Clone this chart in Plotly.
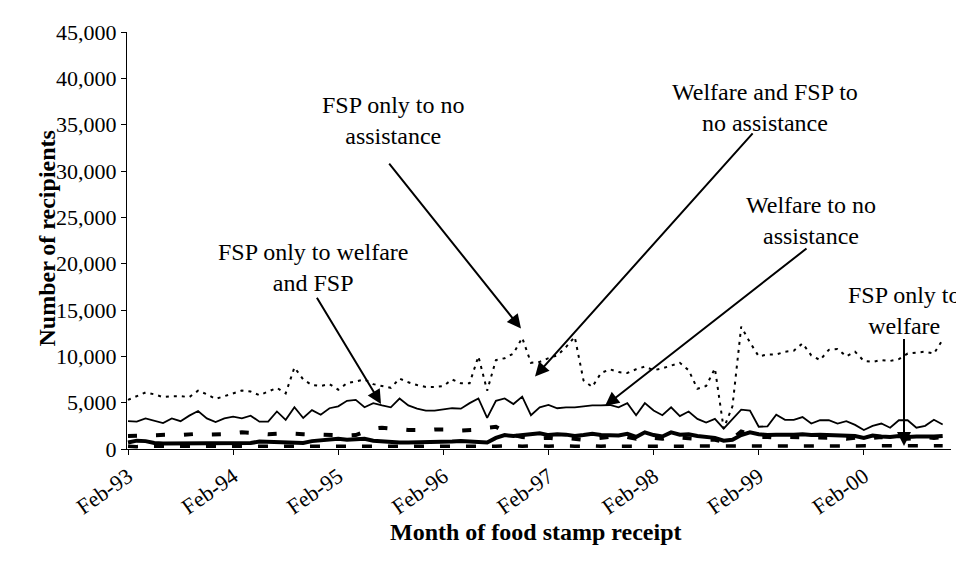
import pandas as pd
import plotly.graph_objects as go

# ---------------- data ----------------
months = list(pd.date_range("1993-02-01", periods=94, freq="MS").strftime("%b-%y"))
tick_labels = ["Feb-93", "Feb-94", "Feb-95", "Feb-96", "Feb-97", "Feb-98", "Feb-99", "Feb-00"]
y_ticks = [0, 5000, 10000, 15000, 20000, 25000, 30000, 35000, 40000, 45000]

fsp_only_to_none = [
    5300, 5700, 6100, 5900, 5600, 5700, 5700, 5600, 6300, 5900,
    5400, 5700, 6000, 6300, 6200, 5800, 6200, 6600, 6000, 8800,
    7500, 6900, 6800, 7000, 6400, 7100, 7300, 7500, 7000, 6800,
    6600, 7600, 7200, 6900, 6700, 6700, 6800, 7500, 7100, 7100,
    10000, 6300, 9600, 9800, 10300, 12000, 9300, 9400, 9800, 10100,
    11000, 12100, 7400, 6700, 8200, 8600, 8300, 8200, 8600, 8900,
    8500, 8700, 9000, 9300, 8500, 6500, 6800, 8700, 2200, 4600,
    13200, 11500, 10000, 10200, 10200, 10500, 10600, 11400, 10100, 9600,
    10700, 10800, 10000, 10500, 9500, 9400, 9600, 9500, 9700, 10300,
    10400, 10500, 10300, 11800]

welfare_fsp_to_none = [
    3000, 2950, 3300, 3050, 2800, 3300, 3000, 3600, 4100, 3300,
    2900, 3300, 3500, 3300, 3600, 2950, 2950, 4050, 3150, 4500,
    3350, 4200, 3700, 4400, 4600, 5200, 5300, 4500, 4950, 4700,
    4500, 5450, 4700, 4350, 4150, 4150, 4250, 4400, 4350, 4950,
    5450, 3350, 5200, 5450, 4850, 5650, 3650, 4500, 4750, 4400,
    4500, 4500, 4600, 4700, 4700, 4750, 4500, 4950, 3650, 4950,
    4150, 3650, 4500, 3550, 4050, 3250, 2850, 3250, 2200, 3250,
    4250, 4150, 2400, 2450, 3700, 3150, 3150, 3450, 2750, 3100,
    3100, 2750, 3000, 2600, 2050, 2500, 2750, 2300, 3100, 3100,
    2300, 2500, 3150, 2650]

welfare_to_none = [
    1400, 1450, 1500, 1450, 1500, 1550, 1500, 1600, 1650, 1550,
    1550, 1600, 1700, 1800, 1750, 1650, 1600, 1650, 1700, 1650,
    1600, 1550, 1500, 1550, 1500, 1450, 1500, 1800, 2200, 2300,
    2200, 2100, 2050, 2050, 2000, 2100, 2150, 2100, 2000, 2050,
    2100, 2300, 2400, 1900, 1500, 1300, 1200, 1150, 1200, 1100,
    1200, 1100, 1000, 1100, 1200, 1300, 1200, 1300, 1100, 1300,
    1200, 1100, 1300, 1200, 1200, 1100, 1000, 1000, 800, 1100,
    1900, 1600, 1300, 1300, 1200, 1300, 1300, 1200, 1300, 1200,
    1300, 1200, 1100, 1200, 1100, 1200, 1300, 1100, 1200, 1100,
    1200, 1300, 1200, 1300]

fsp_only_to_welfare_fsp = [
    700, 900, 850, 650, 600, 600, 650, 650, 650, 700,
    700, 650, 650, 600, 650, 800, 750, 700, 750, 700,
    650, 850, 900, 950, 1100, 1000, 1000, 1100, 900, 800,
    700, 700, 700, 700, 700, 750, 800, 800, 850, 800,
    700, 700, 1200, 1500, 1400, 1500, 1700, 1700, 1500, 1600,
    1550, 1400, 1500, 1650, 1500, 1500, 1450, 1650, 1300, 1800,
    1500, 1350, 1800, 1550, 1600, 1400, 1300, 1200, 900, 1000,
    1500, 1800, 1600, 1500, 1550, 1500, 1550, 1600, 1500, 1550,
    1500, 1400, 1450, 1400, 1200, 1450, 1350, 1300, 1400, 1300,
    1350, 1300, 1350, 1400]

fsp_only_to_welfare = [
    300, 250, 300, 300, 250, 250, 300, 250, 300, 300,
    250, 250, 300, 300, 250, 300, 300, 250, 250, 300,
    300, 300, 250, 250, 300, 300, 250, 300, 250, 250,
    300, 300, 250, 250, 300, 300, 250, 300, 300, 250,
    250, 300, 300, 350, 300, 300, 350, 300, 300, 350,
    300, 300, 300, 350, 300, 350, 300, 300, 350, 300,
    300, 350, 300, 300, 350, 300, 300, 350, 300, 300,
    350, 350, 300, 350, 300, 300, 350, 300, 350, 300,
    300, 350, 300, 350, 300, 300, 350, 300, 350, 300,
    300, 350, 300, 350]

for s in (fsp_only_to_none, welfare_fsp_to_none, welfare_to_none,
          fsp_only_to_welfare_fsp, fsp_only_to_welfare):
    assert len(s) == len(months), len(s)

# ---------------- layout geometry ----------------
W, H = 964, 561
L, R, T, B = 119, 21, 15, 120
X0PX, MONTH_PX = 120.0, 8.76          # pixel of first month, pixels per month
PLOT_BOTTOM, PLOT_TOP = H - B, T


def px2data(px, py):
    m = (px - X0PX) / MONTH_PX
    v = (PLOT_BOTTOM - py) * 45000.0 / (PLOT_BOTTOM - PLOT_TOP)
    return m, v


FONT = "Liberation Serif, Times New Roman, serif"

fig = go.Figure()
styles = [
    ("FSP only to no assistance", fsp_only_to_none, dict(color="black", width=2, dash="3px,5px")),
    ("Welfare and FSP to no assistance", welfare_fsp_to_none, dict(color="black", width=1.8)),
    ("Welfare to no assistance", welfare_to_none, dict(color="black", width=4, dash="9px,19px")),
    ("FSP only to welfare and FSP", fsp_only_to_welfare_fsp, dict(color="black", width=4)),
    ("FSP only to welfare", fsp_only_to_welfare, dict(color="black", width=3.5, dash="10px,16px")),
]
for name, vals, line in styles:
    fig.add_trace(go.Scatter(x=months, y=vals, mode="lines", name=name, line=line))

annotations = []
# labels (text centre in pixels) and arrows (tail px, tip px)
labels = [
    ("FSP only to no<br>assistance", (385, 105), (380, 148), (513, 318)),
    ("Welfare and FSP to<br>no assistance", (757, 92), (746, 117), (527, 367)),
    ("Welfare to no<br>assistance", (803, 208), (800, 235), (597, 397)),
    ("FSP only to welfare<br>and FSP", (305, 256), (308, 285), (373, 395)),
    ("FSP only to<br>welfare", (896, 300), (896, 327), (896, 438)),
]
for text, (cx, cy), (tx, ty), (hx, hy) in labels:
    m, v = px2data(cx, cy)
    annotations.append(dict(x=m, y=v, xref="x", yref="y", text=text, showarrow=False,
                            font=dict(family=FONT, size=24, color="black"), align="center"))
    am, av = px2data(tx, ty)
    hm, hv = px2data(hx, hy)
    annotations.append(dict(x=hm, y=hv, ax=am, ay=av, xref="x", yref="y", axref="x", ayref="y",
                            text="", showarrow=True, arrowhead=2, arrowsize=1.4,
                            arrowwidth=2, arrowcolor="black"))

annotations.append(dict(x=(528 - L) / (W - L - R), y=(PLOT_BOTTOM - 541) / (PLOT_BOTTOM - PLOT_TOP),
                        xref="paper", yref="paper", showarrow=False,
                        text="<b>Month of food stamp receipt</b>",
                        font=dict(family=FONT, size=24, color="black")))
annotations.append(dict(x=(24 - L) / (W - L - R), y=(PLOT_BOTTOM - 226) / (PLOT_BOTTOM - PLOT_TOP),
                        xref="paper", yref="paper", showarrow=False, textangle=-90,
                        text="<b>Number of recipients</b>",
                        font=dict(family=FONT, size=24, color="black")))

x_lo, _ = px2data(L, 0)
x_hi, _ = px2data(W - R, 0)

fig.update_layout(
    width=W, height=H,
    margin=dict(l=L, r=R, t=T, b=B, pad=0),
    paper_bgcolor="white", plot_bgcolor="white",
    showlegend=False,
    font=dict(family=FONT, size=22, color="black"),
    annotations=annotations,
    xaxis=dict(type="category", range=[x_lo, x_hi], tickmode="array",
               tickvals=tick_labels, ticktext=tick_labels, tickangle=-35,
               ticks="outside", ticklen=5, tickcolor="black", showline=True,
               linecolor="black", linewidth=1, showgrid=False, zeroline=False,
               tickfont=dict(family=FONT, size=22, color="black")),
    yaxis=dict(range=[0, 45000], tickvals=y_ticks, tickformat=",d",
               ticks="outside", ticklen=5, tickcolor="black", showline=True,
               linecolor="black", linewidth=1, showgrid=False, zeroline=False,
               tickfont=dict(family=FONT, size=22, color="black")),
)

fig.write_html("out.html")
